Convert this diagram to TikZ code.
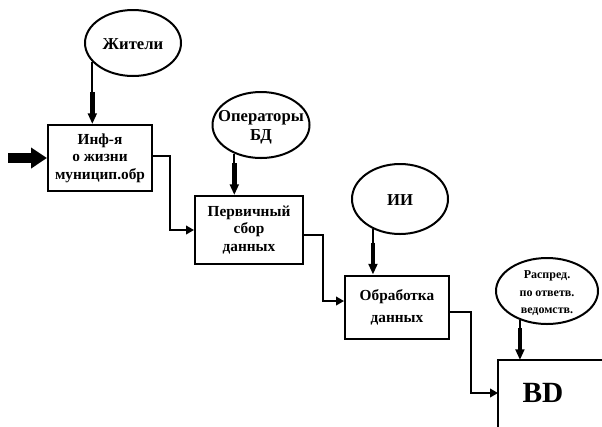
\documentclass[tikz,border=0pt]{standalone}
\usepackage{fontspec}
\setmainfont{Liberation Serif}
\usetikzlibrary{arrows.meta,calc,shapes.geometric}
\newcommand\ovtxt[1]{\makebox[0pt]{\smash{\raisebox{-0.38em}{\begin{tabular}{@{}c@{}}#1\end{tabular}}}}}
\tikzset{
  oval/.style={ellipse, draw, line width=1.5pt, inner sep=0pt, minimum width=72pt, minimum height=49.5pt, font=\bfseries\fontsize{12.5}{14.5}\selectfont},
  blok/.style={rectangle, draw, line width=1.5pt, align=center, inner sep=0pt, font=\bfseries\fontsize{11.5}{13}\selectfont},
  svyaz/.style={line width=1.3pt, -{Triangle[length=6pt,width=6.5pt]}},
  tonk/.style={line width=1.3pt},
  zhir/.style={line width=3.5pt, -{Triangle[length=8pt,width=6.5pt]}},
  vhodstr/.style={line width=7.5pt, -{Triangle[length=12pt,width=15pt]}}
}
\begin{document}
\begin{tikzpicture}[x=0.75pt, y=-0.75pt]
  \useasboundingbox (0,0) rectangle (602,426);
  %овалы
  \node[oval] (jit) at (133,43) {\ovtxt{Жители}};
  \node[oval, minimum width=72.75pt] (oper) at (261,125) {\ovtxt{Операторы\\БД}};
  \node[oval, minimum height=52.5pt] (ii) at (400,199) {\ovtxt{ИИ}};
  \node[oval, minimum width=76.5pt, font=\bfseries\fontsize{9}{13}\selectfont] (rasp) at (547,291) {\ovtxt{Распред.\\по ответв.\\ведомств.}};
  %блоки
  \node[blok, minimum width=78pt, minimum height=49.5pt] (inf) at (100,158) {Инф-я\\о жизни\\муницип.обр};
  \node[blok, minimum width=81pt, minimum height=51pt] (sbor) at (249,230) {Первичный\\сбор\\данных};
  \node[blok, minimum width=78pt, minimum height=47.25pt, font=\bfseries\fontsize{11.5}{16.5}\selectfont] (obr) at (397,307) {Обработка\\данных};
  %BD
  \coordinate (bdugol) at (498,360);
  \node[font=\bfseries\fontsize{22}{24}\selectfont] (bd) at (543,393) {BD};
  \draw[line width=1.5pt] (498,432) -- (bdugol) -- (608,360);
  %вход слева
  \coordinate (vhod) at (8,158);
  \draw[vhodstr] (vhod) -- (inf.west);
  %связи
  \draw[svyaz] ([yshift=1.5pt]inf.east) -- ++(17,0) |- (sbor.west);
  \draw[svyaz] ([yshift=-4pt]sbor.east) -- ++(19,0) |- ([yshift=4.5pt]obr.west);
  \draw[svyaz] ([yshift=-4pt]obr.east) -- ++(21,0) |- (bdugol |- bd);
  %сверху
  \draw[tonk] (jit.205) -- ($(jit.205 |- inf.north)+(0,-30)$);
  \draw[zhir] ($(jit.205 |- inf.north)+(0,-32)$) -- (jit.205 |- inf.north);
  \draw[tonk] (oper.227) -- ($(oper.227 |- sbor.north)+(0,-30)$);
  \draw[zhir] ($(oper.227 |- sbor.north)+(0,-32)$) -- (oper.227 |- sbor.north);
  \draw[tonk] (ii.228) -- ($(ii.228 |- obr.north)+(0,-30)$);
  \draw[zhir] ($(ii.228 |- obr.north)+(0,-32)$) -- (ii.228 |- obr.north);
  \draw[tonk] (rasp.227) -- ($(rasp.227 |- bdugol)+(0,-30)$);
  \draw[zhir] ($(rasp.227 |- bdugol)+(0,-32)$) -- (rasp.227 |- bdugol);
\end{tikzpicture}
\end{document}
